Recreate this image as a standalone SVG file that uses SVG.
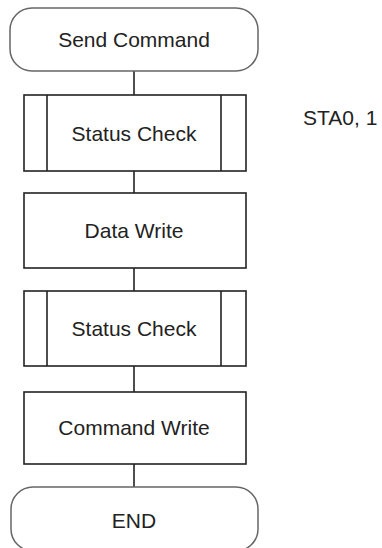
<svg xmlns="http://www.w3.org/2000/svg" width="382" height="548" viewBox="0 0 382 548">
<style>
.term{fill:#fff;stroke:#666;stroke-width:1.5}
.box{fill:#fff;stroke:#222;stroke-width:1.6}
.sub{fill:none;stroke:#222;stroke-width:1.6}
.conn line{stroke:#222;stroke-width:1.6}
text{font-family:"Liberation Sans",Arial,sans-serif;font-size:21px;fill:#222}
.c{text-anchor:middle}
</style>
<rect width="382" height="548" fill="#fff"/>
<g id="connectors" class="conn">
<line x1="134" y1="71" x2="134" y2="95"/>
<line x1="134" y1="171" x2="134" y2="193"/>
<line x1="134" y1="268" x2="134" y2="291"/>
<line x1="134" y1="366" x2="134" y2="392"/>
<line x1="134" y1="464" x2="134" y2="487"/>
</g>
<g id="send-command">
<rect class="term" x="10" y="8" width="248" height="63" rx="22" ry="22"/>
<text class="c" x="134" y="47">Send Command</text>
</g>
<g id="status-check-1">
<rect class="box" x="24" y="95" width="222" height="76"/>
<line class="sub" x1="47" y1="95" x2="47" y2="171"/>
<line class="sub" x1="221" y1="95" x2="221" y2="171"/>
<text class="c" x="134" y="141">Status Check</text>
</g>
<g id="note">
<text x="303" y="125">STA0, 1</text>
</g>
<g id="data-write">
<rect class="box" x="24" y="193" width="222" height="75"/>
<text class="c" x="134" y="238">Data Write</text>
</g>
<g id="status-check-2">
<rect class="box" x="24" y="291" width="222" height="75"/>
<line class="sub" x1="47" y1="291" x2="47" y2="366"/>
<line class="sub" x1="221" y1="291" x2="221" y2="366"/>
<text class="c" x="134" y="336">Status Check</text>
</g>
<g id="command-write">
<rect class="box" x="24" y="392" width="222" height="72"/>
<text class="c" x="134" y="435">Command Write</text>
</g>
<g id="end">
<rect class="term" x="11" y="487" width="247" height="64" rx="22" ry="22"/>
<text class="c" x="134" y="528">END</text>
</g>
</svg>
